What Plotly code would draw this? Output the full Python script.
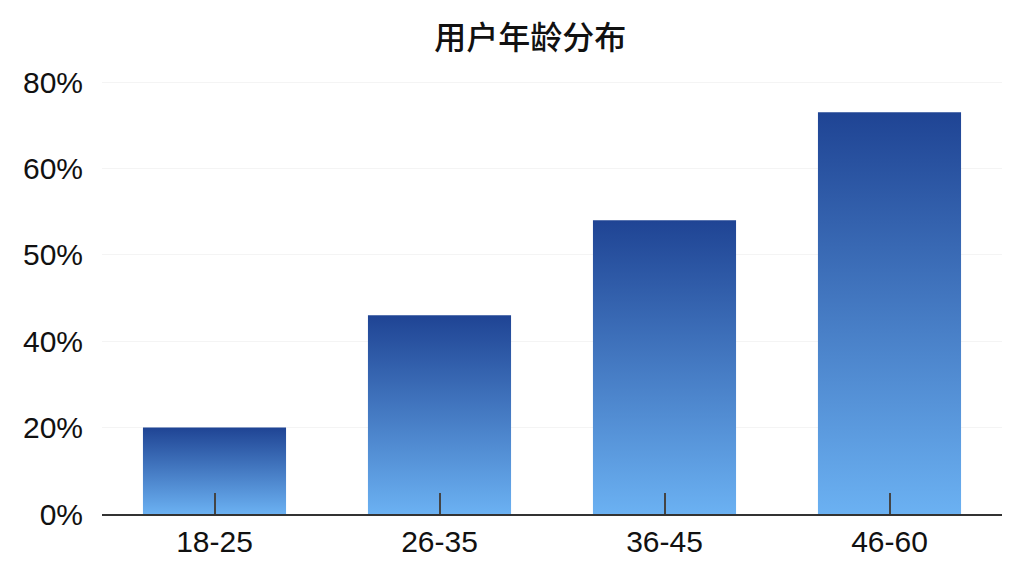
import numpy as np
import plotly.graph_objects as go

# 用户年龄分布 — share of users per age group (%)
age_groups = ["18-25", "26-35", "36-45", "46-60"]
share_pct = [20, 43, 54, 73]

# the y axis in the source is not linear: labels are evenly spaced
tick_pct = [0, 20, 40, 50, 60, 80]
tick_text = ["0%", "20%", "40%", "50%", "60%", "80%"]

BAR_W = 0.636
TOP_COLOR = "#1f4494"
BOTTOM_COLOR = "#6bb1f2"
FONT = "Liberation Sans, Arial, sans-serif"
CJK_FONT = "Noto Sans CJK SC, sans-serif"

tick_pos = list(range(len(tick_pct)))
bar_pos = np.interp(share_pct, tick_pct, tick_pos)

fig = go.Figure()
for i, (grp, h) in enumerate(zip(age_groups, bar_pos)):
    x0, x1 = i - BAR_W / 2, i + BAR_W / 2
    fig.add_trace(go.Scatter(
        x=[x0, x1, x1, x0, x0],
        y=[0, 0, h, h, 0],
        mode="lines",
        line=dict(width=0),
        fill="toself",
        fillgradient=dict(
            type="vertical",
            colorscale=[[0, BOTTOM_COLOR], [1, TOP_COLOR]],
        ),
        name=grp,
        hovertext=f"{grp}: {share_pct[i]}%",
        hoverinfo="text",
        showlegend=False,
    ))

fig.update_layout(
    width=1024, height=576,
    template="plotly_white",
    paper_bgcolor="white", plot_bgcolor="white",
    margin=dict(l=94, r=30, t=62, b=70),
    title=dict(
        text="用户年龄分布",
        x=0.51, xanchor="center",
        y=0.948, yanchor="middle",
        font=dict(family=CJK_FONT, size=32, color="#111", weight=500),
    ),
    xaxis=dict(
        range=[-0.5, len(age_groups) - 0.5],
        tickmode="array",
        tickvals=list(range(len(age_groups))),
        ticktext=age_groups,
        tickfont=dict(family=FONT, size=30, color="#111"),
        showgrid=False, zeroline=False,
        showline=True, linecolor="#333", linewidth=2,
        ticks="inside", ticklen=21, tickwidth=2, tickcolor="#444",
    ),
    yaxis=dict(
        range=[0, 5.14],
        tickmode="array",
        tickvals=tick_pos,
        ticktext=tick_text,
        tickfont=dict(family=FONT, size=30, color="#111"),
        showgrid=True, gridcolor="#f4f4f4", gridwidth=1,
        zeroline=False, showline=False, ticks="",
        ticklabelstandoff=18,
    ),
)

fig.write_html("out.html")
